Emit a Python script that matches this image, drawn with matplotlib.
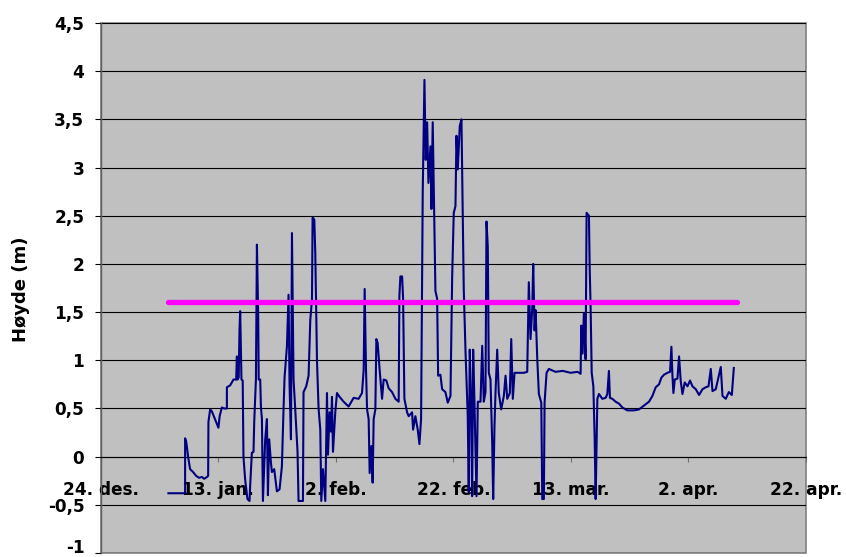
import matplotlib
matplotlib.use("Agg")
import matplotlib.pyplot as plt
from matplotlib.ticker import FuncFormatter, MultipleLocator
from matplotlib.patches import Rectangle
from matplotlib.transforms import offset_copy

# Days counted from 24 Dec 2007; water height in metres
days = [
    11.52, 14.36, 14.36, 14.53, 14.65, 14.87, 15.21, 15.72, 16.24, 16.75,
    17.21, 17.60, 18.11, 18.28, 18.33, 18.62, 18.91, 19.30, 19.64, 20.03,
    20.24, 20.61, 21.00, 21.47, 21.47, 22.03, 22.59, 22.88, 23.05, 23.17,
    23.27, 23.48, 23.61, 23.73, 23.85, 23.95, 24.16, 24.29, 24.58, 24.97,
    25.32, 25.43, 25.72, 26.00, 26.12, 26.41, 26.58, 26.80, 26.88, 27.14,
    27.26, 27.43, 27.60, 27.99, 28.28, 28.45, 28.67, 28.96, 29.13, 29.52,
    29.98, 30.43, 30.83, 31.11, 31.28, 31.69, 31.96, 32.13, 32.37, 32.54,
    32.81, 33.10, 33.49, 33.66, 34.41, 34.51, 34.97, 35.37, 35.66, 35.95,
    36.05, 36.34, 36.51, 36.80, 37.07, 37.36, 37.53, 37.82, 38.21, 38.50,
    38.67, 38.94, 39.18, 39.35, 39.52, 39.91, 40.20, 40.65, 41.33, 42.18,
    43.03, 43.88, 44.46, 44.74, 44.91, 45.14, 45.32, 45.59, 45.76, 46.05,
    46.27, 46.44, 46.73, 46.90, 47.12, 47.46, 47.87, 48.14, 48.60, 48.99,
    49.57, 50.14, 50.70, 50.82, 50.99, 51.28, 51.45, 51.67, 52.13, 52.40,
    52.98, 53.15, 53.54, 53.94, 54.23, 54.51, 54.79, 55.08, 55.30, 55.54,
    55.76, 56.10, 56.27, 56.49, 56.66, 56.95, 57.24, 57.41, 57.80, 58.09,
    58.65, 59.05, 59.51, 59.80, 60.07, 60.36, 60.53, 60.75, 61.09, 61.38,
    61.50, 61.77, 62.06, 62.45, 62.62, 62.79, 63.03, 63.20, 63.37, 63.59,
    63.94, 64.16, 64.62, 64.91, 65.18, 65.47, 65.64, 65.86, 66.03, 66.32,
    66.61, 66.78, 67.00, 67.17, 67.46, 67.73, 68.14, 68.59, 68.88, 69.17,
    69.61, 69.85, 70.12, 70.41, 71.14, 71.99, 72.57, 72.84, 73.13, 73.42,
    73.59, 73.82, 73.99, 74.28, 74.55, 74.96, 75.13, 75.40, 75.52, 75.86,
    76.25, 77.39, 78.59, 79.95, 81.14, 81.65, 81.77, 81.99, 82.21, 82.50,
    82.67, 83.07, 83.19, 83.36, 83.54, 83.82, 84.04, 84.21, 84.50, 84.77,
    85.35, 85.91, 86.20, 86.47, 86.64, 87.05, 87.61, 88.18, 88.76, 89.61,
    90.73, 91.58, 92.44, 93.29, 93.87, 94.43, 94.99, 95.40, 95.84, 96.42,
    96.87, 97.10, 97.27, 97.44, 97.67, 98.13, 98.40, 98.69, 98.98, 99.37,
    99.83, 100.27, 100.68, 101.24, 101.81, 102.39, 102.95, 103.41, 103.80, 104.09,
    104.65, 105.50, 105.79, 106.35, 106.87, 107.38, 107.72,
]
height = [
    -0.38, -0.38, 0.19, 0.16, 0.11, 0.00, -0.13, -0.16, -0.20, -0.22,
    -0.21, -0.23, -0.21, -0.20, 0.36, 0.49, 0.47, 0.41, 0.36, 0.30,
    0.42, 0.51, 0.50, 0.50, 0.72, 0.74, 0.80, 0.80, 0.80, 1.04,
    0.80, 0.82, 1.30, 1.51, 1.10, 0.80, 0.79, 0.00, -0.24, -0.44,
    -0.46, -0.30, 0.04, 0.05, 0.36, 0.80, 2.20, 1.44, 0.80, 0.80,
    0.52, 0.39, -0.46, 0.18, 0.39, -0.40, 0.18, -0.06, -0.16, -0.13,
    -0.36, -0.34, -0.10, 0.50, 0.82, 1.15, 1.68, 0.75, 0.18, 2.32,
    0.80, 0.49, 0.05, -0.46, -0.46, 0.67, 0.73, 0.84, 1.42, 1.63,
    2.48, 2.46, 2.11, 0.99, 0.50, 0.28, -0.46, -0.13, -0.46, 0.66,
    0.02, 0.46, 0.26, 0.62, 0.05, 0.46, 0.66, 0.62, 0.57, 0.52,
    0.61, 0.60, 0.66, 0.90, 1.74, 0.90, 0.49, 0.39, -0.17, 0.11,
    -0.27, 0.39, 0.49, 1.22, 1.18, 0.90, 0.60, 0.80, 0.79, 0.71,
    0.67, 0.60, 0.57, 1.67, 1.87, 1.87, 1.64, 0.60, 0.46, 0.42,
    0.46, 0.28, 0.42, 0.28, 0.13, 0.39, 2.74, 3.91, 3.08, 3.47,
    2.84, 3.22, 2.57, 3.47, 2.80, 1.72, 1.64, 0.84, 0.85, 0.70,
    0.67, 0.56, 0.63, 1.87, 2.53, 2.60, 3.33, 2.98, 3.43, 3.50,
    2.95, 1.74, 1.11, 0.42, -0.37, 1.11, 0.53, -0.41, 1.11, 0.57,
    -0.41, 0.57, 0.57, 1.15, 0.57, 0.67, 2.44, 2.18, 0.87, 0.80,
    0.14, -0.44, 0.32, 0.66, 1.11, 0.66, 0.49, 0.63, 0.84, 0.60,
    0.66, 1.22, 0.60, 0.87, 0.87, 0.87, 0.88, 1.81, 1.22, 1.53,
    2.00, 1.31, 1.52, 1.01, 0.65, 0.56, -0.44, -0.44, 0.56, 0.87,
    0.91, 0.88, 0.89, 0.87, 0.88, 0.86, 1.36, 1.07, 1.49, 1.01,
    2.53, 2.50, 1.98, 1.53, 0.87, 0.73, 0.20, -0.44, 0.60, 0.65,
    0.60, 0.61, 0.65, 0.89, 0.61, 0.60, 0.57, 0.55, 0.51, 0.48,
    0.48, 0.49, 0.53, 0.57, 0.63, 0.72, 0.75, 0.82, 0.85, 0.87,
    0.88, 1.14, 0.85, 0.66, 0.80, 0.81, 1.04, 0.78, 0.65, 0.77,
    0.73, 0.79, 0.73, 0.70, 0.64, 0.70, 0.72, 0.73, 0.91, 0.68,
    0.70, 0.93, 0.63, 0.60, 0.67, 0.64, 0.92,
]

# Reference level drawn as a horizontal line
limit_days = [11.47, 108.3]
limit_height = [1.6, 1.6]

tick_days = [0, 20, 40, 60, 80, 100, 120]
tick_labels = ["24. des.", "13. jan.", "2. feb.", "22. feb.", "13. mar.", "2. apr.", "22. apr."]

plt.rcParams["font.family"] = "DejaVu Sans"
plt.rcParams["font.weight"] = "bold"

W, H = 846, 557
fig = plt.figure(figsize=(W / 100, H / 100), dpi=100)
left, right, top, bottom = 100.7, 806.0, 23.0, 553.0
ax = fig.add_axes([left / W, 1 - bottom / H, (right - left) / W, (bottom - top) / H])

ax.set_facecolor("#C0C0C0")
ax.set_xlim(0, 120)
ax.set_ylim(-1, 4.5)

ax.yaxis.set_major_locator(MultipleLocator(0.5))


def fmt_height(v, _):
    # the lowest label is drawn separately so it stays inside the figure
    if v <= -1:
        return ""
    return f"{v:g}".replace(".", ",")


ax.yaxis.set_major_formatter(FuncFormatter(fmt_height))
ax.grid(axis="y", color="black", lw=0.8)
ax.set_axisbelow(True)

ax.set_xticks(tick_days)
ax.set_xticklabels(tick_labels)

# horizontal axis crosses at zero
ax.spines["bottom"].set_position(("data", 0))
ax.spines["bottom"].set_color("black")
ax.spines["bottom"].set_linewidth(0.8)
ax.spines["left"].set_color("#606060")
ax.spines["left"].set_linewidth(1.0)
ax.spines["top"].set_visible(False)
ax.spines["right"].set_visible(False)
ax.add_patch(Rectangle((0, 0), 1, 1, transform=ax.transAxes, fill=False,
                       edgecolor="#808080", lw=1.2, clip_on=False, zorder=0.5))

ax.tick_params(axis="x", direction="out", length=3.6, width=0.8, color="#707070",
               pad=14, labelsize=12.2, labelcolor="black")
ax.tick_params(axis="y", direction="out", length=4.1, width=0.8, color="black",
               pad=7.7, labelsize=12.2)
for lab in ax.get_xticklabels() + ax.get_yticklabels():
    lab.set_fontweight("bold")

# "-1" label at the foot of the value axis
ax.text(0, -1, "-1", transform=offset_copy(ax.get_yaxis_transform(), fig=fig,
                                           x=-(4.1 + 7.7), y=-3, units="points"),
        ha="right", va="bottom", fontsize=12.2, fontweight="bold", clip_on=False)

ax.plot(days, height, color="#000080", lw=1.5, zorder=3)
ax.plot(limit_days, limit_height, color="#FF00FF", lw=3.8, solid_capstyle="round", zorder=4)

fig.text(21 / W, 1 - 289 / H, "Høyde (m)", rotation=90, ha="center", va="center",
         fontsize=13, fontweight="bold")

fig.savefig("out.png", dpi=100)
